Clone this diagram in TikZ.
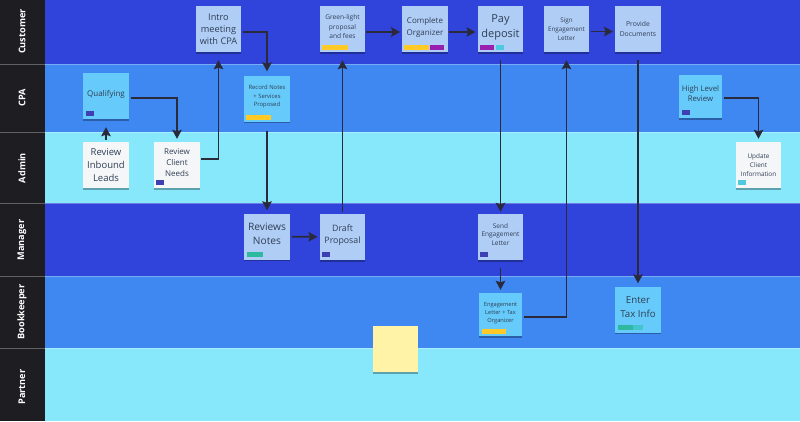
\documentclass[tikz,border=0pt]{standalone}
\usepackage{fontspec}
\setmainfont{Open Sans}
\usetikzlibrary{arrows.meta,positioning,shadows}
\definecolor{banddark}{HTML}{3044DC}
\definecolor{bandmid}{HTML}{3F88F2}
\definecolor{bandlight}{HTML}{86E8FA}
\definecolor{barblack}{HTML}{1E1E22}
\definecolor{notepale}{HTML}{B0CDF6}
\definecolor{notesky}{HTML}{66CBFB}
\definecolor{notewhite}{HTML}{F5F6F8}
\definecolor{noteyellow}{HTML}{FFF3A8}
\definecolor{inkdark}{HTML}{2A2A3A}
\definecolor{inksoft}{HTML}{2F3F55}
\definecolor{tagyellow}{HTML}{FFC928}
\definecolor{tagpurple}{HTML}{9A1FB0}
\definecolor{tagnavy}{HTML}{3F3FB5}
\definecolor{tagteal}{HTML}{2FB8A0}
\definecolor{tagcyan}{HTML}{4DC9E0}
\begin{document}
\begin{tikzpicture}[x=1pt,y=-1pt,
   note/.style={minimum width=45.5pt,minimum height=46pt,inner sep=0pt,align=center,text=inksoft,
      drop shadow={shadow xshift=0pt,shadow yshift=-1.5pt,opacity=.3,fill=black}},
   tagged/.style={text depth=5pt},
   tag/.style={anchor=south west,minimum height=5pt,minimum width=8pt,inner sep=0pt},
   role/.style={rotate=90,text=white,font=\bfseries\fontsize{9.2}{11}\selectfont},
   flow/.style={draw=inkdark,line width=1.8pt,-{Stealth[length=9pt,width=9.5pt,inset=1.5pt]}}]
   \useasboundingbox (0,0) rectangle (800,421);

   \fill[banddark] (45,0) rectangle (800,64);
   \fill[bandmid] (45,64) rectangle (800,132);
   \fill[bandlight] (45,132) rectangle (800,203);
   \fill[banddark] (45,203) rectangle (800,276);
   \fill[bandmid] (45,276) rectangle (800,348);
   \fill[bandlight] (45,348) rectangle (800,421);
   \fill[barblack] (0,0) rectangle (45,421);
   \draw[white,opacity=.3,line width=.6pt] (0,64) -- (800,64) (0,132) -- (800,132) (0,203) -- (800,203)
      (0,276) -- (800,276) (0,348) -- (800,348);

   \node[role] (customer) at (22,31.5) {Customer};
   \node[role] (cpa) at (22,98) {CPA};
   \node[role] (admin) at (22,168) {Admin};
   \node[role] (manager) at (22,240) {Manager};
   \node[role] (bookkeeper) at (22,312) {Bookkeeper};
   \node[role] (partner) at (22,387) {Partner};

   \node[note,fill=notepale,font=\fontsize{9.2}{12}\selectfont] (intro) at (218.5,29) {Intro\\meeting\\with CPA};
   \node[note,fill=notesky,tagged,font=\fontsize{8}{12}\selectfont] (qual) at (106,96) {Qualifying};
   \node[note,fill=notewhite,font=\fontsize{9.5}{12.6}\selectfont] (inbound) at (106,165) {Review\\Inbound\\Leads};
   \node[note,fill=notewhite,tagged,font=\fontsize{8}{11}\selectfont] (client) at (177,165) {Review\\Client\\Needs};
   \node[note,fill=notesky,tagged,font=\fontsize{5.9}{8.3}\selectfont] (record) at (267,98.5) {Record Notes\\+ Services\\Proposed};
   \node[note,fill=notepale,tagged,font=\fontsize{6.6}{9.3}\selectfont] (green) at (342.5,29) {Green-light\\proposal\\and fees};
   \node[note,fill=notepale,tagged,font=\fontsize{8}{12}\selectfont] (organizer) at (425,29) {Complete\\Organizer};
   \node[note,fill=notepale,tagged,font=\fontsize{11}{15}\selectfont] (pay) at (500.5,29) {Pay\\deposit};
   \node[note,fill=notepale,font=\fontsize{6.3}{9}\selectfont] (sign) at (566.5,29) {Sign\\Engagement\\Letter};
   \node[note,fill=notepale,font=\fontsize{6.8}{9.6}\selectfont] (provide) at (638,29) {Provide\\Documents};
   \node[note,fill=notesky,tagged,minimum width=43pt,minimum height=43pt,font=\fontsize{7.8}{10}\selectfont] (high) at (700.5,96.5) {High Level\\Review};
   \node[note,fill=notewhite,font=\fontsize{6.4}{8.7}\selectfont] (update) at (758.5,165) {Update\\Client\\Information};
   \node[note,fill=notepale,tagged,font=\fontsize{10.2}{13.6}\selectfont] (reviews) at (267,236.5) {Reviews\\Notes};
   \node[note,fill=notepale,tagged,font=\fontsize{8.8}{12}\selectfont] (draft) at (342.5,237) {Draft\\Proposal};
   \node[note,fill=notepale,tagged,font=\fontsize{6.5}{8.6}\selectfont] (send) at (500.5,237) {Send\\Engagement\\Letter};
   \node[note,fill=notesky,tagged,minimum width=43pt,minimum height=43pt,font=\fontsize{5.7}{8}\selectfont] (letter) at (500.5,314.5) {Engagement\\Letter + Tax\\Organizer};
   \node[note,fill=notesky,tagged,font=\fontsize{9.7}{13.6}\selectfont] (enter) at (638,309.5) {Enter\\Tax Info};
   \node[note,fill=noteyellow] (blank) at (395.5,349) {};

   \node[tag,fill=tagnavy] (t1) at ([shift={(3pt,3pt)}]qual.south west) {};
   \node[tag,fill=tagnavy] (t2) at ([shift={(2pt,3pt)}]client.south west) {};
   \node[tag,fill=tagyellow,minimum width=25pt] (t3) at ([shift={(2pt,2pt)}]record.south west) {};
   \node[tag,fill=tagyellow,minimum width=26pt] (t4) at ([shift={(2.5pt,2.5pt)}]green.south west) {};
   \node[tag,fill=tagyellow,minimum width=25pt] (t5) at ([shift={(2pt,2.5pt)}]organizer.south west) {};
   \node[tag,fill=tagpurple,minimum width=14pt,right=0pt of t5] (t6) {};
   \node[tag,fill=tagpurple,minimum width=14pt] (t7) at ([shift={(2.5pt,2.5pt)}]pay.south west) {};
   \node[tag,fill=tagcyan,minimum width=8pt,right=1pt of t7] (t8) {};
   \node[tag,fill=tagnavy] (t9) at ([shift={(2.5pt,3pt)}]high.south west) {};
   \node[tag,fill=tagcyan] (t10) at ([shift={(2.5pt,3pt)}]update.south west) {};
   \node[tag,fill=tagteal,minimum width=16pt] (t11) at ([shift={(2.5pt,3pt)}]reviews.south west) {};
   \node[tag,fill=tagnavy] (t12) at ([shift={(2.5pt,3pt)}]draft.south west) {};
   \node[tag,fill=tagnavy] (t13) at ([shift={(2.5pt,3pt)}]send.south west) {};
   \node[tag,fill=tagyellow,minimum width=24pt] (t14) at ([shift={(2.5pt,2.5pt)}]letter.south west) {};
   \node[tag,fill=tagteal,minimum width=15pt] (t15) at ([shift={(2.5pt,3pt)}]enter.south west) {};
   \node[tag,fill=tagcyan!70!tagteal,minimum width=10pt,right=0pt of t15] (t16) {};

   \path (inbound) edge[flow,shorten <=2pt,shorten >=8pt] (qual);
   \draw[flow,shorten <=2pt,shorten >=4pt] ([yshift=-3pt]intro.east) -| (record.north);
   \draw[flow,shorten <=2pt,shorten >=3pt] ([yshift=-2pt]qual.east) -| (client.north);
   \draw[flow,shorten <=1pt,shorten >=8pt] ([yshift=6pt]client.east) -| (intro.south);
   \path (record) edge[flow,shorten <=9pt,shorten >=3pt] (reviews);
   \path (reviews) edge[flow,shorten <=2pt,shorten >=2pt] (draft);
   \path (draft) edge[flow,shorten <=2pt,shorten >=8pt] (green);
   \path ([yshift=-3pt]green.east) edge[flow,shorten <=1pt,shorten >=2pt] ([yshift=-3pt]organizer.west);
   \path ([yshift=-3pt]organizer.east) edge[flow,shorten <=1pt,shorten >=2pt] ([yshift=-3pt]pay.west);
   \path (pay) edge[flow,shorten <=8pt,shorten >=2pt] (send);
   \path (send) edge[flow,shorten <=8pt,shorten >=3pt] (letter);
   \draw[flow,shorten <=2pt,shorten >=8pt] ([yshift=-2.5pt]letter.east) -| (sign.south);
   \path ([yshift=-2.5pt]sign.east) edge[flow,shorten <=2pt,shorten >=2pt] ([yshift=-2.5pt]provide.west);
   \path (provide) edge[flow,shorten <=8pt,shorten >=3pt] (enter);
   \draw[flow,shorten <=2pt,shorten >=3pt] ([yshift=-1.5pt]high.east) -| (update.north);
\end{tikzpicture}
\end{document}
